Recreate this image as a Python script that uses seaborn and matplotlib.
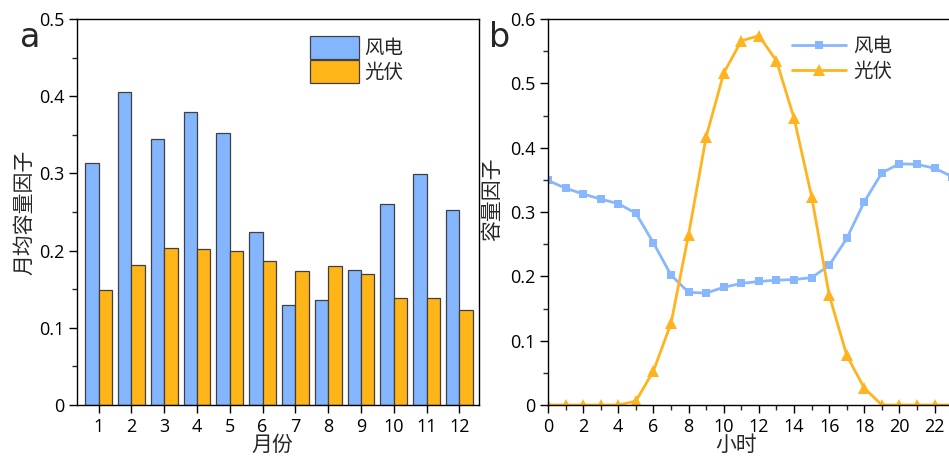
import matplotlib
matplotlib.use('Agg')
import matplotlib.pyplot as plt
import seaborn as sns
import pandas as pd
from matplotlib.ticker import MultipleLocator

# 月均容量因子
months = [1, 2, 3, 4, 5, 6, 7, 8, 9, 10, 11, 12]
wind_month = [0.314, 0.406, 0.344, 0.380, 0.352, 0.224, 0.130, 0.136, 0.175, 0.260, 0.299, 0.253]
solar_month = [0.149, 0.181, 0.203, 0.202, 0.199, 0.186, 0.173, 0.180, 0.170, 0.139, 0.138, 0.123]

# 小时容量因子
hours = list(range(24))
wind_hour = [0.349, 0.337, 0.328, 0.320, 0.313, 0.298, 0.252, 0.202, 0.175, 0.174, 0.183, 0.189,
             0.192, 0.194, 0.195, 0.198, 0.217, 0.259, 0.316, 0.361, 0.375, 0.374, 0.368, 0.355]
solar_hour = [0, 0, 0, 0, 0, 0.006, 0.053, 0.127, 0.265, 0.417, 0.516, 0.566,
              0.574, 0.535, 0.446, 0.324, 0.171, 0.077, 0.026, 0, 0, 0, 0, 0]

names = ['风电', '光伏']
bar_colors = ['#84B5FF', '#FFB417']
line_colors = ['#88B7FF', '#FFB41F']

sns.set_style('white')
plt.rcParams['font.family'] = ['Open Sans', 'Noto Sans CJK SC', 'DejaVu Sans']
plt.rcParams['axes.unicode_minus'] = False

fig = plt.figure(figsize=(9.49, 4.57), dpi=100)
ax1 = fig.add_axes([77 / 949, 1 - 405 / 457, 402 / 949, 386 / 457])
ax2 = fig.add_axes([548 / 949, 1 - 405 / 457, 413 / 949, 386 / 457])

df = pd.DataFrame({
    '月份': months * 2,
    '值': wind_month + solar_month,
    '类型': [names[0]] * 12 + [names[1]] * 12,
})
sns.barplot(data=df, x='月份', y='值', hue='类型', palette=bar_colors, width=0.82,
            saturation=1, edgecolor='#404040', linewidth=0.9, ax=ax1, legend=True)
ax1.set_xlim(-0.66, 11.6)
ax1.set_ylim(0, 0.5)
ax1.set_yticks([0, 0.1, 0.2, 0.3, 0.4, 0.5])
ax1.set_yticklabels(['0', '0.1', '0.2', '0.3', '0.4', '0.5'])
ax1.yaxis.set_minor_locator(MultipleLocator(0.05))
ax1.set_xlabel('月份', fontsize=15)
ax1.set_ylabel('月均容量因子', fontsize=15)
ax1.yaxis.set_label_coords(-0.104, 0.5)
ax1.xaxis.set_label_coords(0.485, -0.078)
h, l = ax1.get_legend_handles_labels()
ax1.legend(h, l, loc='upper left', bbox_to_anchor=(310 / 949, 1 - 36 / 457),
           bbox_transform=fig.transFigure, frameon=False, fontsize=14,
           handlelength=2.5, handleheight=1.45, labelspacing=0.05, handletextpad=0.3,
           borderpad=0, borderaxespad=0)

sns.lineplot(x=hours, y=wind_hour, color=line_colors[0], marker='s', markersize=6,
             markeredgewidth=0, linewidth=2, label=names[0], ax=ax2)
sns.lineplot(x=hours, y=solar_hour, color=line_colors[1], marker='^', markersize=8,
             markeredgewidth=0, linewidth=2, label=names[1], ax=ax2)
ax2.set_xlim(0, 23.5)
ax2.set_ylim(0, 0.6)
ax2.xaxis.set_major_locator(MultipleLocator(2))
ax2.xaxis.set_minor_locator(MultipleLocator(1))
ax2.set_yticks([0, 0.1, 0.2, 0.3, 0.4, 0.5, 0.6])
ax2.set_yticklabels(['0', '0.1', '0.2', '0.3', '0.4', '0.5', '0.6'])
ax2.yaxis.set_minor_locator(MultipleLocator(0.05))
ax2.set_xlabel('小时', fontsize=15)
ax2.set_ylabel('容量因子', fontsize=15)
ax2.yaxis.set_label_coords(-0.109, 0.534)
ax2.xaxis.set_label_coords(0.455, -0.078)
ax2.spines['right'].set_visible(False)
ax2.legend(loc='upper left', bbox_to_anchor=(792 / 949, 1 - 38 / 457),
           bbox_transform=fig.transFigure, frameon=False, fontsize=14,
           handlelength=2.8, labelspacing=0.35, handletextpad=0.35,
           borderpad=0, borderaxespad=0)

for ax in (ax1, ax2):
    for s in ax.spines.values():
        s.set_color('black')
        s.set_linewidth(1.0)
    ax.tick_params(which='major', direction='out', length=6, width=1, labelsize=13,
                   left=True, bottom=True, colors='black', pad=3)
    ax.tick_params(which='minor', direction='out', length=3.5, width=1, left=True, bottom=True)
ax1.tick_params(axis='x', which='minor', bottom=False)
ax2.set_zorder(1)

fig.text(20 / 949, 1 - 47 / 457, 'a', fontsize=24, family='DejaVu Sans', va='baseline')
fig.text(489 / 949, 1 - 47 / 457, 'b', fontsize=24, family='DejaVu Sans', va='baseline')

fig.savefig('out.png', dpi=100)
